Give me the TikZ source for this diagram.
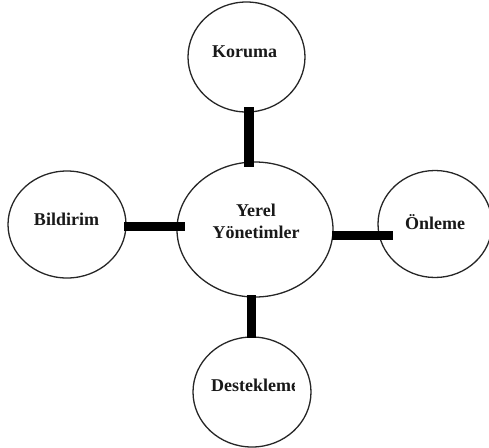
\documentclass[tikz,border=0pt]{standalone}
\usepackage{fontspec}
\setmainfont{Liberation Serif}
\usetikzlibrary{shapes.geometric}
\tikzset{
 circ/.style={draw=black!85,line width=1.3pt,ellipse,inner sep=0pt,fill=white},
 lab/.style={font=\bfseries\fontsize{18}{22}\selectfont,align=center,inner sep=0pt,text=black!90},
 bar/.style={line width=9.6pt,black}
}
\begin{document}
\begin{tikzpicture}[x=1pt,y=-1pt]
\useasboundingbox (0,0) rectangle (489,447);
\clip (0,0) rectangle (489,447);
\node[circ,minimum width=156pt,minimum height=135pt] (c) at (255,229.5) {};
\node[circ,minimum width=117pt,minimum height=110pt] (k) at (246.5,57) {};
\node[circ,minimum width=118pt,minimum height=110pt] (d) at (252,392) {};
\node[circ,minimum width=118pt,minimum height=107pt] (b) at (67,224.5) {};
\node[circ,minimum width=114pt,minimum height=107pt] (o) at (435,224) {};
\coordinate (t1) at (249,107); \coordinate (t2) at (249,167);
\coordinate (t3) at (124,226.5); \coordinate (t4) at (185,226.5);
\coordinate (t5) at (332,235.5); \coordinate (t6) at (393,235.5);
\coordinate (t7) at (251.5,295); \coordinate (t8) at (251.5,338);
\draw[bar] (t1) -- (t2);
\draw[bar] (t3) -- (t4);
\draw[bar] (t5) -- (t6);
\draw[bar] (t7) -- (t8);
\node[lab] (lk) at (244.5,52) {Koruma};
\node[lab] (lc) at (256,221) {Yerel\\Yönetimler};
\node[lab] (lb) at (66.5,219) {Bildirim};
\node[lab] (lo) at (435,222) {Önleme};
\begin{scope}
\clip (200,370) rectangle (294,410);
\node[lab,anchor=west] (ld) at (211,385) {Destekleme};
\end{scope}
\end{tikzpicture}
\end{document}
